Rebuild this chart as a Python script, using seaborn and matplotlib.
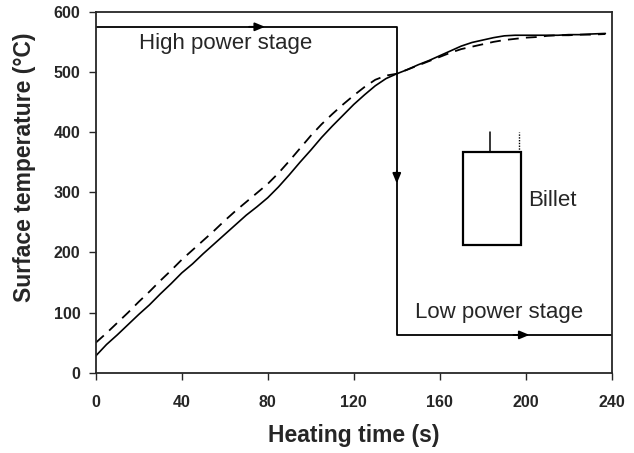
import numpy as np
import pandas as pd
import matplotlib
matplotlib.use("Agg")
import matplotlib.pyplot as plt
import seaborn as sns
from matplotlib.patches import Rectangle

# Heating time (s) and surface temperature (degC)
time_s = [0, 5, 10, 15, 20, 25, 30, 35, 40, 45, 50, 55, 60, 65, 70, 75, 80, 85,
          90, 95, 100, 105, 110, 115, 120, 125, 130, 135, 140, 145, 150, 155, 160,
          165, 170, 175, 180, 185, 190, 195, 200, 205, 210, 215, 220, 225, 230, 237]
temp_solid = [28, 47, 63, 80, 97, 113, 131, 148, 166, 181, 198, 214, 230, 246, 262,
              276, 291, 309, 329, 350, 370, 391, 410, 428, 446, 462, 477, 489, 497,
              504, 512, 519, 527, 535, 543, 549, 553, 557, 560, 561, 561, 561, 561,
              561, 562, 562, 563, 564]
temp_dashed = [50, 66, 83, 100, 118, 135, 153, 170, 188, 204, 220, 236, 253, 269, 284,
               299, 314, 332, 352, 373, 394, 413, 430, 446, 461, 475, 487, 494, 497,
               504, 511, 518, 525, 532, 538, 542, 546, 550, 553, 555, 557, 558, 560,
               561, 561, 562, 562, 563]

# power stage path
stage_x = [0, 140, 140, 240]
stage_y = [575, 575, 63, 63]

x_ticks = [0, 40, 80, 120, 160, 200, 240]
y_ticks = [0, 100, 200, 300, 400, 500, 600]

sns.set_style("ticks")
plt.rcParams['font.family'] = ['Liberation Sans', 'DejaVu Sans']

df = pd.DataFrame({"time": time_s, "solid": temp_solid, "dashed": temp_dashed})

fig = plt.figure(figsize=(6.34, 4.53), dpi=100)
ax = fig.add_axes([0.151, 0.177, 0.814, 0.797])

sns.lineplot(data=df, x="time", y="solid", ax=ax, color="black", lw=1.2)
sns.lineplot(data=df, x="time", y="dashed", ax=ax, color="black", lw=1.3,
             linestyle=(0, (6, 4)))

# power stage lines and arrowheads
ax.plot(stage_x, stage_y, color="black", lw=1.3)
arrow = dict(arrowstyle="-|>,head_length=0.6,head_width=0.25", color="black", lw=1.3)
ax.annotate("", xy=(80, stage_y[0]), xytext=(70, stage_y[0]), arrowprops=arrow)
ax.annotate("", xy=(stage_x[1], 310), xytext=(stage_x[1], 340), arrowprops=arrow)
ax.annotate("", xy=(203, stage_y[-1]), xytext=(193, stage_y[-1]), arrowprops=arrow)

ax.text(20, 548, "High power stage", fontsize=16, va="center", ha="left")
ax.text(148.5, 101, "Low power stage", fontsize=16, va="center", ha="left")

# billet sketch
ax.add_patch(Rectangle((171, 213), 27, 154, fill=False, ec="black", lw=1.6))
ax.plot([183.5, 183.5], [367, 401], color="black", lw=1.1)
ax.plot([196.7, 196.7], [367, 401], color="black", lw=1.0, linestyle=(0, (1, 1)))
ax.text(201, 287, "Billet", fontsize=16, va="center", ha="left")

ax.set_xlim(0, 240)
ax.set_ylim(0, 600)
ax.set_xticks(x_ticks)
ax.set_yticks(y_ticks)
ax.tick_params(axis="x", direction="out", length=5, width=1, pad=11, labelsize=11.5)
ax.tick_params(axis="y", direction="out", length=5, width=1, pad=6, labelsize=11.5)
for lab in ax.get_xticklabels() + ax.get_yticklabels():
    lab.set_fontweight("bold")

for s in ax.spines.values():
    s.set_visible(True)
    s.set_linewidth(1.3)

ax.set_xlabel("Heating time (s)", fontsize=16.5, fontweight="bold", labelpad=10)
ax.set_ylabel("Surface temperature (°C)", fontsize=16.5, fontweight="bold")
ax.yaxis.set_label_coords(-0.115, 0.57)

fig.savefig("out.png", dpi=100)
